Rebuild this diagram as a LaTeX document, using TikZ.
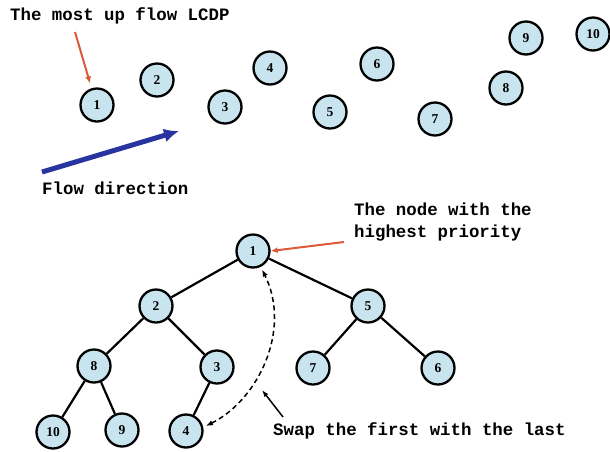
\documentclass[tikz,border=0pt]{standalone}
\usepackage{fontspec}
\setmainfont{Liberation Serif}
\newfontfamily\labelfont{Liberation Mono}
\usetikzlibrary{arrows.meta}

\definecolor{nodefill}{RGB}{200,228,238}
\definecolor{flowblue}{RGB}{40,52,160}
\definecolor{pointred}{RGB}{220,90,55}

\tikzset{
  ball/.style={circle, draw=black, line width=2.3pt, fill=nodefill,
    minimum size=33pt, inner sep=0pt, font=\bfseries\fontsize{13.5}{13.5}\selectfont},
  caption/.style={anchor=base west, inner sep=0pt,
    font=\labelfont\bfseries\fontsize{17.4}{22}\selectfont, align=left},
  treeedge/.style={line width=2.2pt, black},
  redpointer/.style={pointred, line width=2pt, -{Latex[length=7pt,width=6pt]}},
  flowarrow/.style={flowblue, line width=5pt, -{Latex[length=15pt,width=14pt]}},
  swaparrow/.style={black, line width=1.5pt, dashed, dash pattern=on 5pt off 3.5pt,
    {Latex[length=7pt,width=5.5pt]}-{Latex[length=7pt,width=5.5pt]}},
  notearrow/.style={black, line width=1.5pt, -{Latex[length=7pt,width=5pt]}}
}

\begin{document}
\begin{tikzpicture}[x=1pt, y=-1pt]
  \useasboundingbox (0,0) rectangle (610,451);

  % ---- upper part: nodes scattered along the flow ----
  \node[ball] (t1)  at (97,105)  {1};
  \node[ball] (t2)  at (157,80)  {2};
  \node[ball] (t3)  at (225,107) {3};
  \node[ball] (t4)  at (270,68)  {4};
  \node[ball] (t5)  at (330,112) {5};
  \node[ball] (t6)  at (377,64)  {6};
  \node[ball] (t7)  at (435,119) {7};
  \node[ball] (t8)  at (506,88)  {8};
  \node[ball] (t9)  at (526,38)  {9};
  \node[ball] (t10) at (593,34)  {10};

  \node[caption] (lcdp) at (10,20) {The most up flow LCDP};
  \coordinate (lcdp-tail) at (75,32);
  \draw[redpointer, shorten >=5pt] (lcdp-tail) -- (t1.108);

  \node[caption] (flow) at (42,194) {Flow direction};
  \coordinate (flow-tail) at (42,172);
  \coordinate (flow-head) at (179,131);
  \draw[flowarrow] (flow-tail) -- (flow-head);

  % ---- lower part: priority tree ----
  \node[ball] (b1)  at (253,251) {1};
  \node[ball] (b2)  at (156,306) {2};
  \node[ball] (b5)  at (368,306) {5};
  \node[ball] (b8)  at (94,366)  {8};
  \node[ball] (b3)  at (217,367) {3};
  \node[ball] (b7)  at (313,368) {7};
  \node[ball] (b6)  at (438,368) {6};
  \node[ball] (b10) at (53,432)  {10};
  \node[ball] (b9)  at (122,430) {9};
  \node[ball] (b4)  at (186,431) {4};

  \draw[treeedge] (b1) -- (b2);
  \draw[treeedge] (b1) -- (b5);
  \draw[treeedge] (b2) -- (b8);
  \draw[treeedge] (b2) -- (b3);
  \draw[treeedge] (b5) -- (b7);
  \draw[treeedge] (b5) -- (b6);
  \draw[treeedge] (b8) -- (b10);
  \draw[treeedge] (b8) -- (b9);
  \draw[treeedge] (b3) -- (b4);

  \node[caption] (prio) at (354,237) {The node with the\\highest priority};
  \coordinate (prio-tail) at (344,242);
  \draw[redpointer] (prio-tail) -- (b1.east);

  % swap of the first and the last element
  \draw[swaparrow, shorten <=3pt, shorten >=3pt]
    (b4.12) .. controls (258,400) and (292,330) .. (b1.-64);

  \node[caption] (swap) at (273,435) {Swap the first with the last};
  \coordinate (swap-tail) at (283,417);
  \coordinate (swap-head) at (262,390);
  \draw[notearrow] (swap-tail) -- (swap-head);
\end{tikzpicture}
\end{document}
